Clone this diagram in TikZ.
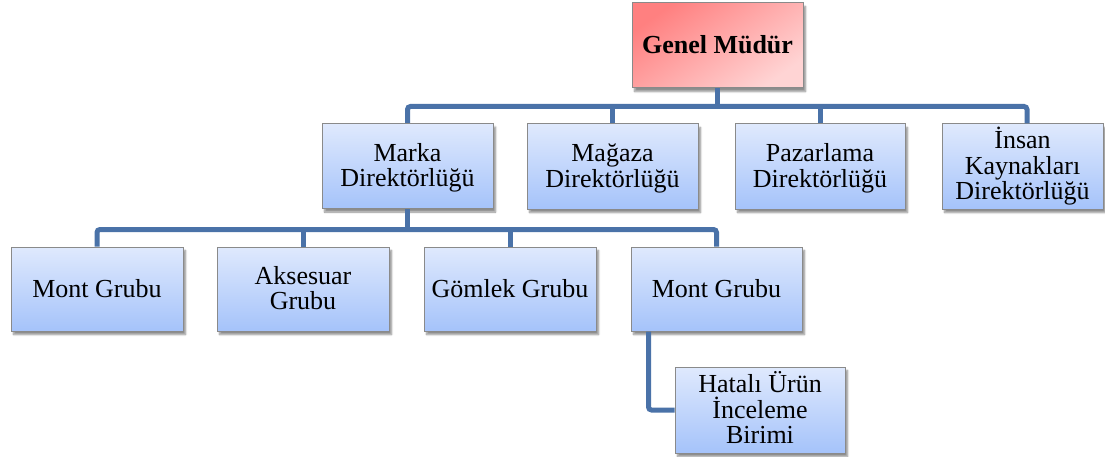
\documentclass[tikz,border=0pt]{standalone}
\usepackage{fontspec}
\setmainfont{Liberation Serif}
\usetikzlibrary{shadows.blur}

\definecolor{linkblue}{RGB}{74,114,168}
\definecolor{boxtop}{RGB}{223,233,253}
\definecolor{boxbot}{RGB}{165,195,250}
\definecolor{redtop}{RGB}{255,128,128}
\definecolor{redbot}{RGB}{255,212,212}
\definecolor{boxline}{RGB}{138,138,138}

\tikzset{
  unit/.style={draw=boxline, line width=1pt, inner sep=0pt,
    minimum width=171pt, minimum height=85pt, align=center,
    font=\fontsize{26}{25.5}\selectfont,
    top color=boxtop, bottom color=boxbot,
    blur shadow={shadow xshift=2.5pt, shadow yshift=-3.5pt,
      shadow blur steps=6, shadow opacity=45},
    text depth=4.75pt},
  head/.style={unit, top color=redtop, bottom color=redbot, shading angle=35,
    font=\fontsize{26}{25.5}\selectfont\bfseries},
  % line count sets the box height above the last baseline
  one/.style={text height=20.75pt},
  two/.style={text height=46.25pt},
  three/.style={text height=71.75pt},
  conn/.style={draw=linkblue, line width=5pt, rounded corners=3pt},
}

\begin{document}
\begin{tikzpicture}[x=1pt, y=-1pt]
\useasboundingbox (0,0) rectangle (1105,457);

% top level
\node[head, one] (gm) at (717.5,45.5) {Genel Müdür};

% directorates
\node[unit, two] (marka) at (407.5,166) {Marka\\Direktörlüğü};
\node[unit, two] (magaza) at (612.5,166.5) {Mağaza\\Direktörlüğü};
\node[unit, two, minimum width=170pt] (paz) at (820,166.5) {Pazarlama\\Direktörlüğü};
\node[unit, three, minimum width=161pt] (insan) at (1022.5,166.5) {İnsan\\Kaynakları\\Direktörlüğü};

% groups under the brand directorate
\node[unit, one, minimum width=172pt, minimum height=84pt] (mont1) at (97,289) {Mont Grubu};
\node[unit, two, minimum width=172pt, minimum height=84pt] (akses) at (303,289) {Aksesuar\\Grubu};
\node[unit, one, minimum width=172pt, minimum height=84pt] (gomlek) at (510,289) {Gömlek Grubu};
\node[unit, one, minimum width=171pt, minimum height=84pt] (mont2) at (716.5,289) {Mont Grubu};

% unit under the second coat group
\node[unit, three, minimum width=170pt, minimum height=86pt] (hatali) at (760,410) {Hatalı Ürün\\İnceleme\\Birimi};

% connectors
\coordinate (barA) at (717,106.5);
\coordinate (barB) at (407,229.5);

\draw[conn] (marka.north) |- (barA) -| ([xshift=4.5pt]insan.north);
\draw[conn] (gm.south) -- (gm.south |- barA);
\draw[conn] (magaza.north) -- (magaza.north |- barA);
\draw[conn] (paz.north) -- (paz.north |- barA);

\draw[conn] (mont1.north) |- (barB) -| (mont2.north);
\draw[conn] (marka.south) -- (marka.south |- barB);
\draw[conn] (akses.north) -- (akses.north |- barB);
\draw[conn] (gomlek.north) -- (gomlek.north |- barB);

\draw[conn] ([xshift=-68pt]mont2.south) |- (hatali.west);
\end{tikzpicture}
\end{document}
